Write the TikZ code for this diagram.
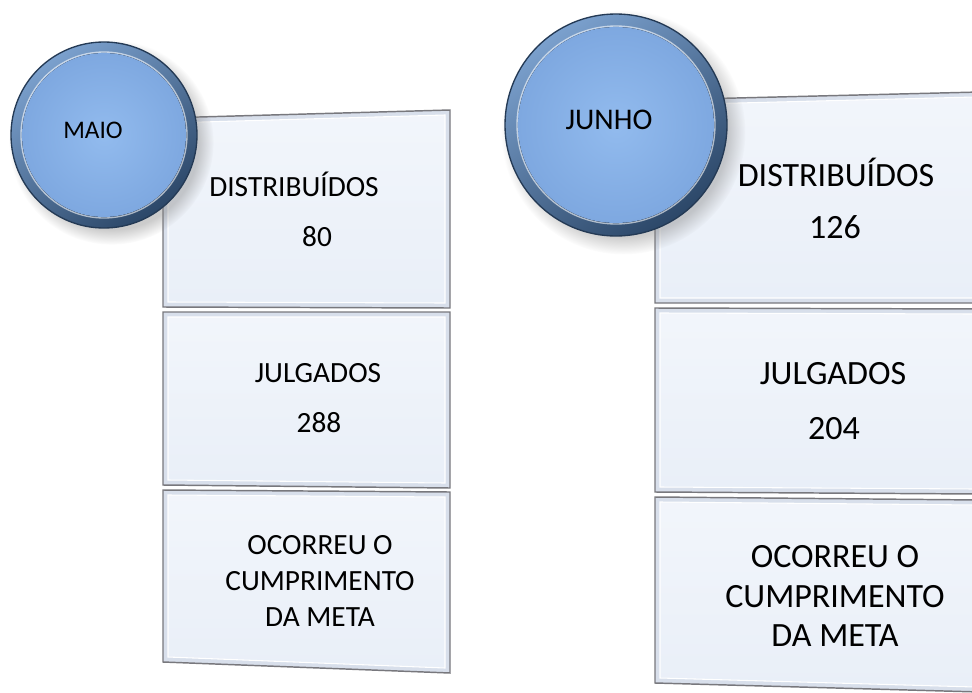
\documentclass[tikz,border=0pt]{standalone}
\usepackage{fontspec}
\setmainfont{Carlito}
\usetikzlibrary{shadows,calc}
\definecolor{tafelfill}{RGB}{233,239,248}
\definecolor{tafelrand}{RGB}{216,223,235}
\definecolor{tafellinie}{RGB}{120,120,125}
\definecolor{kugelhell}{RGB}{146,187,238}
\definecolor{kugeldunkel}{RGB}{126,168,224}
\definecolor{kugelring}{RGB}{79,129,189}
\tikzset{
  tafel/.style={fill=tafelrand,draw=tafellinie,line width=1.1pt},
  innen/.style={top color=tafelfill!60!white,bottom color=tafelfill,draw=white,line width=0.8pt},
  kugel/.style={circle,inner sep=0pt,line width=1pt,draw=kugelring!45!black,
    top color=kugelring!75!white,bottom color=kugelring!55!black,shading angle=35,
    circular drop shadow={shadow xshift=5pt,shadow yshift=-5pt,opacity=0.4}},
  textL/.style={font=\fontsize{22}{27}\selectfont,align=center},
  textR/.style={font=\fontsize{25.5}{29.5}\selectfont,align=center}
}
\newcommand{\tafelbox}[4]{% tl, tr, br, bl
  \draw[tafel] #1 -- #2 -- #3 -- #4 -- cycle;
  \draw[innen] ($#1+(5,5)$) -- ($#2+(-5,5)$) -- ($#3+(-5,-5)$) -- ($#4+(5,-5)$) -- cycle;
}
\begin{document}
\begin{tikzpicture}[x=0.75pt,y=-0.75pt]
\useasboundingbox (0,0) rectangle (972,693);
\fill[white] (0,0) rectangle (972,693);

% MAIO
\tafelbox{(163,118)}{(450,110)}{(450,308)}{(163,307)}
\tafelbox{(163,312)}{(450,312)}{(450,488)}{(163,485)}
\tafelbox{(163,490)}{(450,492)}{(450,673)}{(163,662)}
\node[kugel,minimum size=139.5pt] (maio) at (104,135) {};
\fill[inner color=kugelhell,outer color=kugeldunkel] (maio.center) circle (82);
\draw[white,opacity=0.6,line width=1pt] (maio.center) circle (83);
\node[font=\fontsize{19}{22}\selectfont] (maioT) at (93,130) {MAIO};
\node[textL,anchor=base] (maioDist) at (294,196.5) {DISTRIBUÍDOS};
\node[textL,anchor=base] (maioDistN) at (317,246.5) {80};
\node[textL,anchor=base] (maioJulg) at (318,382.5) {JULGADOS};
\node[textL,anchor=base] (maioJulgN) at (319,432.5) {288};
\node[textL] (maioMeta) at (320,581) {OCORREU O\\CUMPRIMENTO\\DA META};

% JUNHO
\tafelbox{(655,100)}{(980,92)}{(980,303)}{(655,303)}
\tafelbox{(655,308)}{(980,309)}{(980,494)}{(655,492)}
\tafelbox{(655,497)}{(980,500)}{(980,692)}{(655,683)}
\node[kugel,minimum size=166.5pt] (junho) at (616,125) {};
\fill[inner color=kugelhell,outer color=kugeldunkel] (junho.center) circle (98);
\draw[white,opacity=0.6,line width=1pt] (junho.center) circle (99);
\node[font=\fontsize{22.5}{26}\selectfont] (junhoT) at (609,120) {JUNHO};
\node[textR,anchor=base] (junhoDist) at (836,186) {DISTRIBUÍDOS};
\node[textR,anchor=base] (junhoDistN) at (835,238) {126};
\node[textR,anchor=base] (junhoJulg) at (833,384) {JULGADOS};
\node[textR,anchor=base] (junhoJulgN) at (834,439) {204};
\node[textR] (junhoMeta) at (835,596) {OCORREU O\\CUMPRIMENTO\\DA META};
\end{tikzpicture}
\end{document}
